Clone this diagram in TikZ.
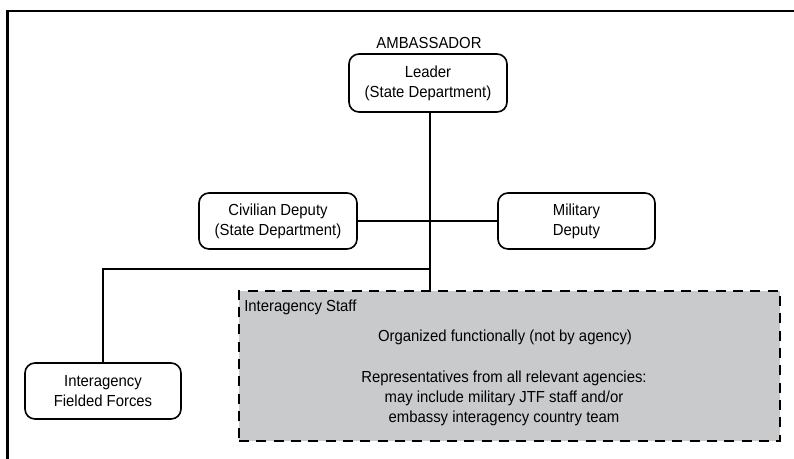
\documentclass[tikz,border=0pt]{standalone}
\usepackage{fontspec}
\setmainfont{Liberation Sans}[FakeStretch=0.93]
\definecolor{staffgray}{HTML}{C9CACC}
\tikzset{
  txt/.style={font=\fontsize{12pt}{15pt}\selectfont, inner sep=0pt, align=center},
  orgbox/.style={txt, draw=black, line width=1.2pt, rounded corners=7.5pt, fill=white},
  conn/.style={draw=black, line width=1.2pt},
  frameline/.style={draw=black, line width=2pt},
  staffbox/.style={draw=black, fill=staffgray, line width=2.2pt, dash pattern=on 7.5pt off 5.5pt, inner sep=0pt}
}
\begin{document}
\begin{tikzpicture}[x=0.75pt,y=-0.75pt]
\useasboundingbox (0,0) rectangle (794,458);
% outer frame (open to the right and bottom)
\coordinate (ftl) at (7.5,11);
\coordinate (fbl) at (7.5,460);
\coordinate (ftr) at (796,11);
\draw[frameline] (fbl) -- (ftl) -- (ftr);

% nodes
\node[txt] (amb) at (429,43) {AMBASSADOR};
\node[orgbox, minimum width=118.5pt, minimum height=43.5pt] (leader) at (428,83) {Leader\\(State Department)};
\node[orgbox, minimum width=118.5pt, minimum height=42pt] (civ) at (278,221) {Civilian Deputy\\(State Department)};
\node[orgbox, minimum width=117.75pt, minimum height=42pt] (mil) at (576.5,221) {Military\\Deputy};
\node[orgbox, minimum width=117pt, minimum height=42pt] (field) at (103,391) {Interagency\\Fielded Forces};
\node[staffbox, minimum width=405.75pt, minimum height=112.5pt] (staff) at (509.5,366) {};
\node[txt, anchor=base west] (stafflbl) at (244,311) {Interagency Staff};
\node[txt, anchor=base] (orgtxt) at (505,341) {Organized functionally (not by agency)};
\node[txt] (reptxt) at (504,398.5) {Representatives from all relevant agencies:\\may include military JTF staff and/or\\embassy interagency country team};

% connectors
\coordinate (junc) at (430,269);
\draw[conn] (leader.south -| junc) -- (staff.north -| junc);
\draw[conn] (civ.east) -- (mil.west);
\draw[conn] (junc) -| (field.north);
\end{tikzpicture}
\end{document}
